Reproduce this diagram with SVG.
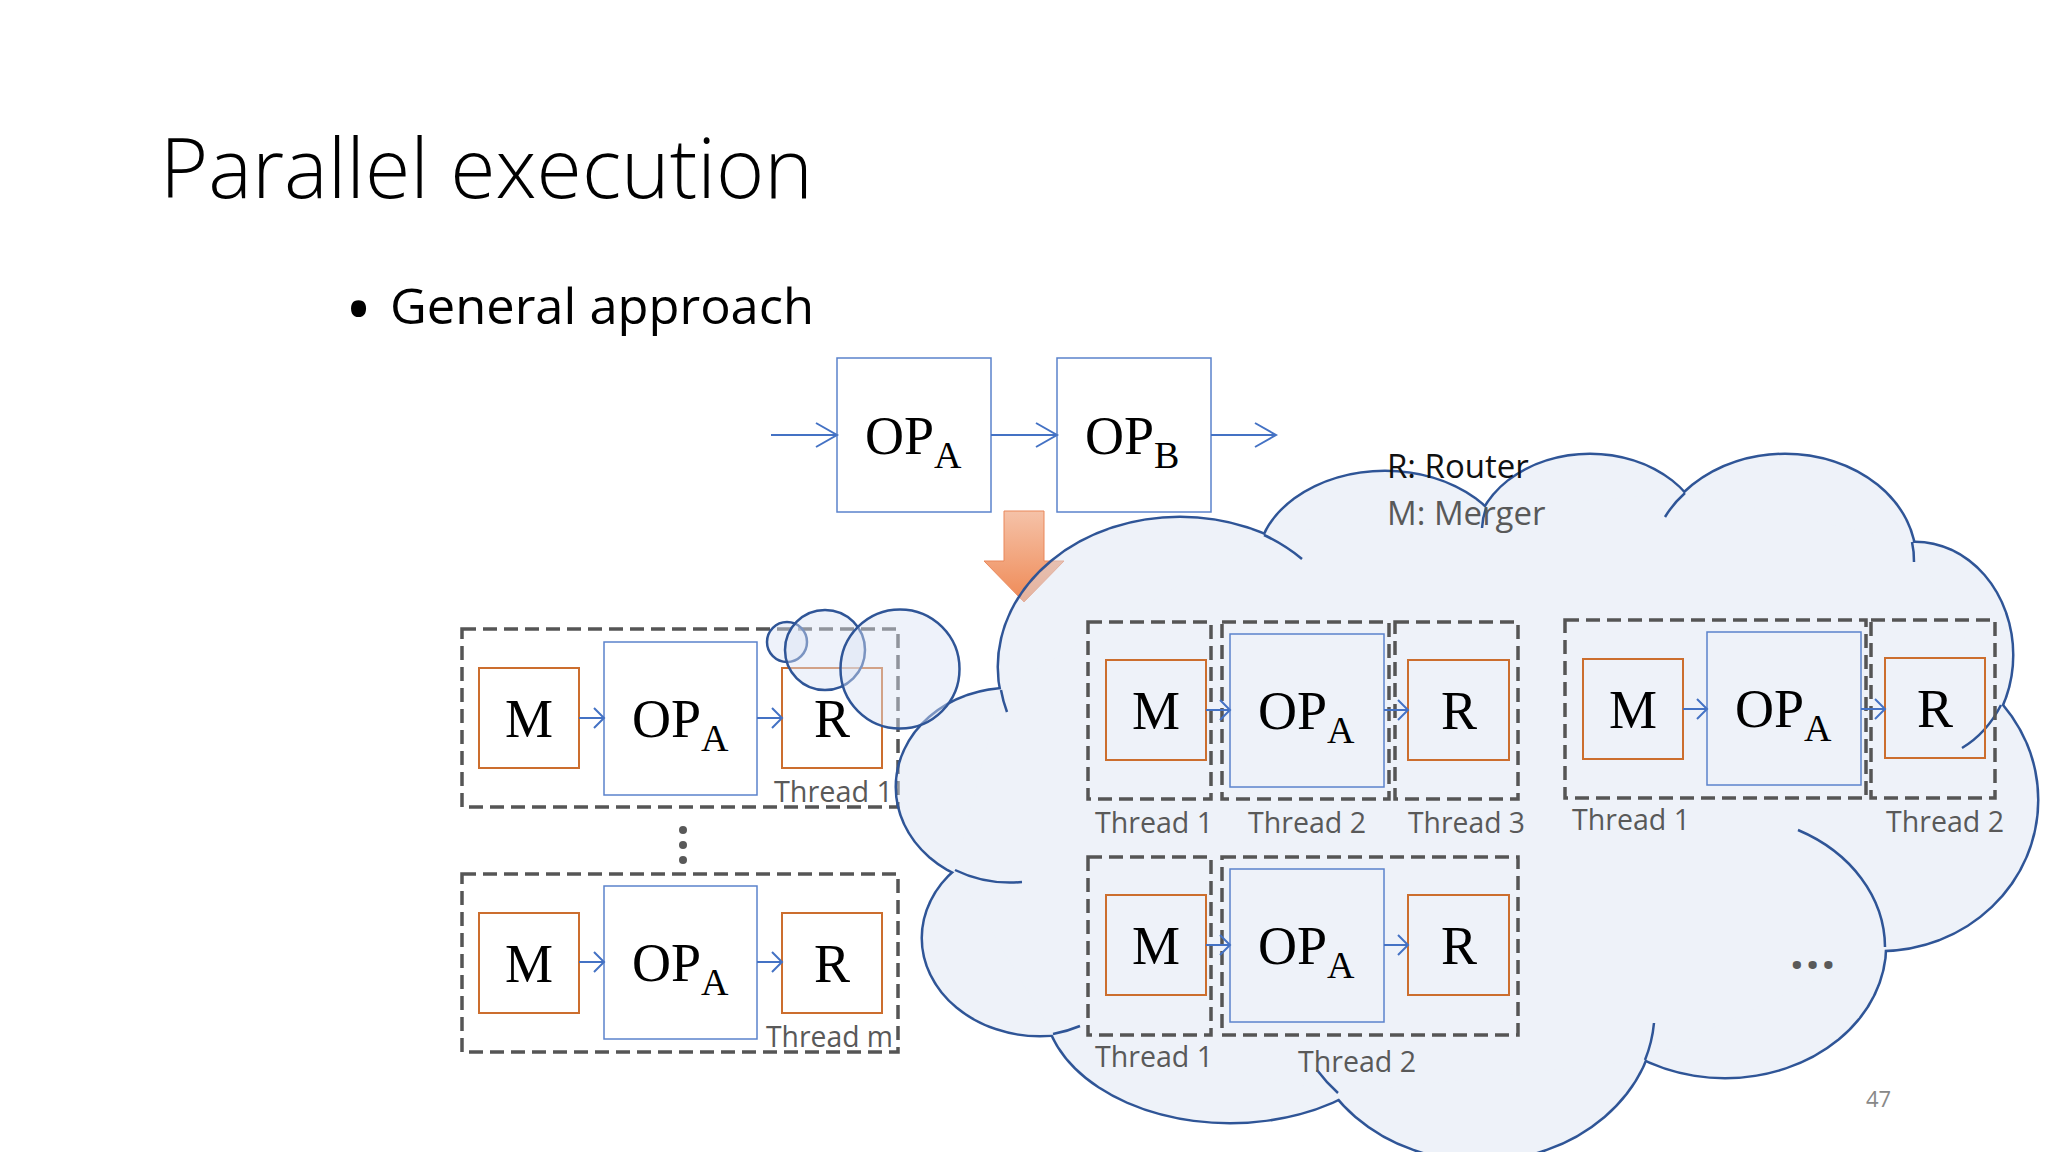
<svg xmlns="http://www.w3.org/2000/svg" xmlns:xlink="http://www.w3.org/1999/xlink" width="2048" height="1152" viewBox="0 0 2048 1152">
<style>
  .title{font-family:"Open Sans","Noto Sans",sans-serif;font-weight:300;font-size:83px;fill:#000}
  .sub1{font-family:"Open Sans","Noto Sans",sans-serif;font-size:50px;fill:#000}
  .bul{font-family:"Open Sans","Noto Sans",sans-serif;font-size:72px;fill:#000}
  .serif{font-family:"Liberation Serif","Times New Roman",serif;font-size:54px;fill:#000}
  .serif .s{font-size:38px}
  .mid{text-anchor:middle}
  .lbl{font-family:"Open Sans","Noto Sans",sans-serif;font-size:29px;fill:#595959}
  .leg{font-family:"Open Sans","Noto Sans",sans-serif;font-size:33px}
  .dash{fill:none;stroke:#555;stroke-width:3.5;stroke-dasharray:14 7}
  .org{fill:none;stroke:#CC6E2E;stroke-width:2}
  .blu{fill:none;stroke:#5B83CC;stroke-width:1.5}
  .con{fill:none;stroke:#4472C4;stroke-width:2}
  .stub{fill:none;stroke:#2F5597;stroke-width:2.5}
  .bub{fill:#DAE3F3;fill-opacity:0.45;stroke:#2F5597;stroke-width:2.5}
</style>
<defs>
  <marker id="ahBig" markerUnits="userSpaceOnUse" markerWidth="24" markerHeight="26" refX="21" refY="12" orient="auto" overflow="visible">
    <path d="M0,0 L21,12 L0,24" fill="none" stroke="#4472C4" stroke-width="2"/>
  </marker>
  <marker id="ahSmall" markerUnits="userSpaceOnUse" markerWidth="12" markerHeight="22" refX="10" refY="10" orient="auto" overflow="visible">
    <path d="M0,0 L10,10 L0,20" fill="none" stroke="#4472C4" stroke-width="2"/>
  </marker>
  <linearGradient id="orangeGrad" x1="0" y1="0" x2="0" y2="1">
    <stop offset="0" stop-color="#F5C2A8"/>
    <stop offset="1" stop-color="#EF8A56"/>
  </linearGradient>
  <g id="lobes">
    <ellipse cx="1180" cy="667" rx="181" ry="149"/>
    <ellipse cx="1010" cy="787" rx="113" ry="98"/>
    <ellipse cx="1040" cy="938" rx="117" ry="97"/>
    <ellipse cx="1230" cy="1000" rx="185" ry="122"/>
    <ellipse cx="1480" cy="1010" rx="175" ry="150"/>
    <ellipse cx="1725" cy="945" rx="160" ry="132"/>
    <ellipse cx="1880" cy="800" rx="157" ry="150"/>
    <ellipse cx="1915" cy="655" rx="97" ry="112"/>
    <ellipse cx="1785" cy="560" rx="130" ry="105"/>
    <ellipse cx="1590" cy="545" rx="115" ry="90"/>
    <ellipse cx="1385" cy="565" rx="127" ry="93"/>
  </g>
  <polygon id="core" points="1264,535 1486,508 1685,493 1912,542 2001,705 1885,947 1645,1060 1338,1093 1053,1034 955,870 1001,690"/>
  <mask id="cloudMask" maskUnits="userSpaceOnUse" x="0" y="0" width="2048" height="1152">
    <rect x="0" y="0" width="2048" height="1152" fill="#fff"/>
    <use xlink:href="#lobes" href="#lobes" fill="#000"/>
    <use xlink:href="#core" href="#core" fill="#000"/>
  </mask>
</defs>

<rect x="0" y="0" width="2048" height="1152" fill="#fff"/>

<g id="title">
  <text class="title" x="160" y="198" textLength="653" lengthAdjust="spacingAndGlyphs">Parallel execution</text>
</g>
<g id="bullet">
  <text class="bul" x="345" y="335">•</text>
  <text class="sub1" x="390" y="324" textLength="424" lengthAdjust="spacingAndGlyphs">General approach</text>
</g>

<!-- top flow -->
<g id="top-opA">
  <rect class="blu" x="837" y="358" width="154" height="154"/>
  <text class="serif" x="865" y="454">OP<tspan class="s" dy="14">A</tspan></text>
</g>
<g id="top-opB">
  <rect class="blu" x="1057" y="358" width="154" height="154"/>
  <text class="serif" x="1085" y="454">OP<tspan class="s" dy="14">B</tspan></text>
</g>

<g id="down-arrow">
  <polygon points="1004,511 1044,511 1044,561 1064,561 1024,602 984,561 1004,561" fill="url(#orangeGrad)" stroke="#E9875A" stroke-width="1"/>
</g>

<!-- left column -->
<g id="left-thread-1">
  <rect class="dash" x="462" y="629" width="436" height="178"/>
  <text class="lbl" x="774" y="802" textLength="119" lengthAdjust="spacingAndGlyphs">Thread 1</text>
</g>
<g id="left-m1"><rect class="org" x="479" y="668" width="100" height="100"/><text class="serif mid" x="529" y="737">M</text></g>
<g id="left-op1"><rect class="blu" x="604" y="642" width="153" height="153"/><text class="serif" x="632" y="737">OP<tspan class="s" dy="14">A</tspan></text></g>
<g id="left-r1"><rect class="org" x="782" y="668" width="100" height="100"/><text class="serif mid" x="832" y="737">R</text></g>

<g id="left-vdots" fill="#595959">
  <circle cx="683" cy="830" r="4"/>
  <circle cx="683" cy="845" r="4"/>
  <circle cx="683" cy="860" r="4"/>
</g>

<g id="left-thread-m">
  <rect class="dash" x="462" y="874" width="436" height="178"/>
  <text class="lbl" x="766" y="1047" textLength="127" lengthAdjust="spacingAndGlyphs">Thread m</text>
</g>
<g id="left-m2"><rect class="org" x="479" y="913" width="100" height="100"/><text class="serif mid" x="529" y="982">M</text></g>
<g id="left-op2"><rect class="blu" x="604" y="886" width="153" height="153"/><text class="serif" x="632" y="981">OP<tspan class="s" dy="14">A</tspan></text></g>
<g id="left-r2"><rect class="org" x="782" y="913" width="100" height="100"/><text class="serif mid" x="832" y="982">R</text></g>

<!-- cloud -->
<g id="cloud">
  <g opacity="0.45" fill="#DAE3F3">
    <use xlink:href="#lobes" href="#lobes"/>
    <use xlink:href="#core" href="#core"/>
  </g>
  <use xlink:href="#lobes" href="#lobes" fill="none" stroke="#2F5597" stroke-width="5" mask="url(#cloudMask)"/>
  <path class="stub" d="M1264,535 A181,149 0 0 1 1302,559"/>
  <path class="stub" d="M1001,690 A181,149 0 0 0 1007,712"/>
  <path class="stub" d="M955,870 A113,98 0 0 0 1022,882"/>
  <path class="stub" d="M1053,1034 A117,97 0 0 0 1080,1026"/>
  <path class="stub" d="M1338,1093 A175,150 0 0 1 1317,1070"/>
  <path class="stub" d="M1645,1060 A175,150 0 0 0 1654,1023"/>
  <path class="stub" d="M1885,947 A160,132 0 0 0 1798,830"/>
  <path class="stub" d="M2001,705 A97,112 0 0 1 1962,748"/>
  <path class="stub" d="M1912,542 A130,105 0 0 1 1914,562"/>
  <path class="stub" d="M1685,493 A130,105 0 0 0 1665,517"/>
  <path class="stub" d="M1486,508 A115,90 0 0 0 1482,528"/>
</g>

<g id="thought-bubbles">
  <circle class="bub" cx="787" cy="642" r="20"/>
  <circle class="bub" cx="825" cy="650" r="40"/>
  <circle class="bub" cx="900" cy="669" r="59.5"/>
</g>

<!-- cloud contents: upper row -->
<g id="c1-thread1"><rect class="dash" x="1088" y="622" width="123" height="177"/><text class="lbl" x="1095" y="833" textLength="118" lengthAdjust="spacingAndGlyphs">Thread 1</text></g>
<g id="c1-thread2"><rect class="dash" x="1222" y="622" width="167" height="177"/><text class="lbl" x="1248" y="833" textLength="118" lengthAdjust="spacingAndGlyphs">Thread 2</text></g>
<g id="c1-thread3"><rect class="dash" x="1395" y="622" width="123" height="177"/><text class="lbl" x="1408" y="833" textLength="117" lengthAdjust="spacingAndGlyphs">Thread 3</text></g>
<g id="c1-m"><rect class="org" x="1106" y="660" width="100" height="100"/><text class="serif mid" x="1156" y="729">M</text></g>
<g id="c1-op"><rect class="blu" x="1230" y="634" width="154" height="153"/><text class="serif" x="1258" y="729">OP<tspan class="s" dy="14">A</tspan></text></g>
<g id="c1-r"><rect class="org" x="1408" y="660" width="101" height="100"/><text class="serif mid" x="1459" y="729">R</text></g>

<!-- cloud contents: lower row -->
<g id="c2-thread1"><rect class="dash" x="1088" y="857" width="123" height="178"/><text class="lbl" x="1095" y="1067" textLength="118" lengthAdjust="spacingAndGlyphs">Thread 1</text></g>
<g id="c2-thread2"><rect class="dash" x="1222" y="857" width="296" height="178"/><text class="lbl" x="1298" y="1072" textLength="118" lengthAdjust="spacingAndGlyphs">Thread 2</text></g>
<g id="c2-m"><rect class="org" x="1106" y="895" width="100" height="100"/><text class="serif mid" x="1156" y="964">M</text></g>
<g id="c2-op"><rect class="blu" x="1230" y="869" width="154" height="153"/><text class="serif" x="1258" y="964">OP<tspan class="s" dy="14">A</tspan></text></g>
<g id="c2-r"><rect class="org" x="1408" y="895" width="101" height="100"/><text class="serif mid" x="1459" y="964">R</text></g>

<!-- cloud contents: right group -->
<g id="c3-thread1"><rect class="dash" x="1565" y="620" width="301" height="178"/><text class="lbl" x="1572" y="830" textLength="118" lengthAdjust="spacingAndGlyphs">Thread 1</text></g>
<g id="c3-thread2"><rect class="dash" x="1871" y="620" width="124" height="178"/><text class="lbl" x="1886" y="832" textLength="118" lengthAdjust="spacingAndGlyphs">Thread 2</text></g>
<g id="c3-m"><rect class="org" x="1583" y="659" width="100" height="100"/><text class="serif mid" x="1633" y="728">M</text></g>
<g id="c3-op"><rect class="blu" x="1707" y="632" width="154" height="153"/><text class="serif" x="1735" y="727">OP<tspan class="s" dy="14">A</tspan></text></g>
<g id="c3-r"><rect class="org" x="1885" y="658" width="100" height="100"/><text class="serif mid" x="1935" y="727">R</text></g>

<g id="connectors">
  <path class="con" d="M771,435 H837" marker-end="url(#ahBig)"/>
  <path class="con" d="M991,435 H1057" marker-end="url(#ahBig)"/>
  <path class="con" d="M1211,435 H1276" marker-end="url(#ahBig)"/>
  <path class="con" d="M579,718 H604" marker-end="url(#ahSmall)"/>
  <path class="con" d="M757,718 H782" marker-end="url(#ahSmall)"/>
  <path class="con" d="M579,962 H604" marker-end="url(#ahSmall)"/>
  <path class="con" d="M757,962 H782" marker-end="url(#ahSmall)"/>
  <path class="con" d="M1206,710 H1230" marker-end="url(#ahSmall)"/>
  <path class="con" d="M1384,710 H1408" marker-end="url(#ahSmall)"/>
  <path class="con" d="M1206,945 H1230" marker-end="url(#ahSmall)"/>
  <path class="con" d="M1384,945 H1408" marker-end="url(#ahSmall)"/>
  <path class="con" d="M1683,709 H1707" marker-end="url(#ahSmall)"/>
  <path class="con" d="M1861,709 H1885" marker-end="url(#ahSmall)"/>
</g>

<g id="legend">
  <text class="leg" x="1387" y="478" fill="#111">R: Router</text>
  <text class="leg" x="1387" y="525" fill="#595959">M: Merger</text>
</g>
<g id="ellipsis">
  <text x="1790" y="969" font-family="Open Sans, Noto Sans, sans-serif" font-weight="700" font-size="48" letter-spacing="2" fill="#595959">...</text>
</g>
<g id="page-number">
  <text x="1866" y="1107" font-family="Open Sans, Noto Sans, sans-serif" font-size="22" fill="#888">47</text>
</g>
</svg>
